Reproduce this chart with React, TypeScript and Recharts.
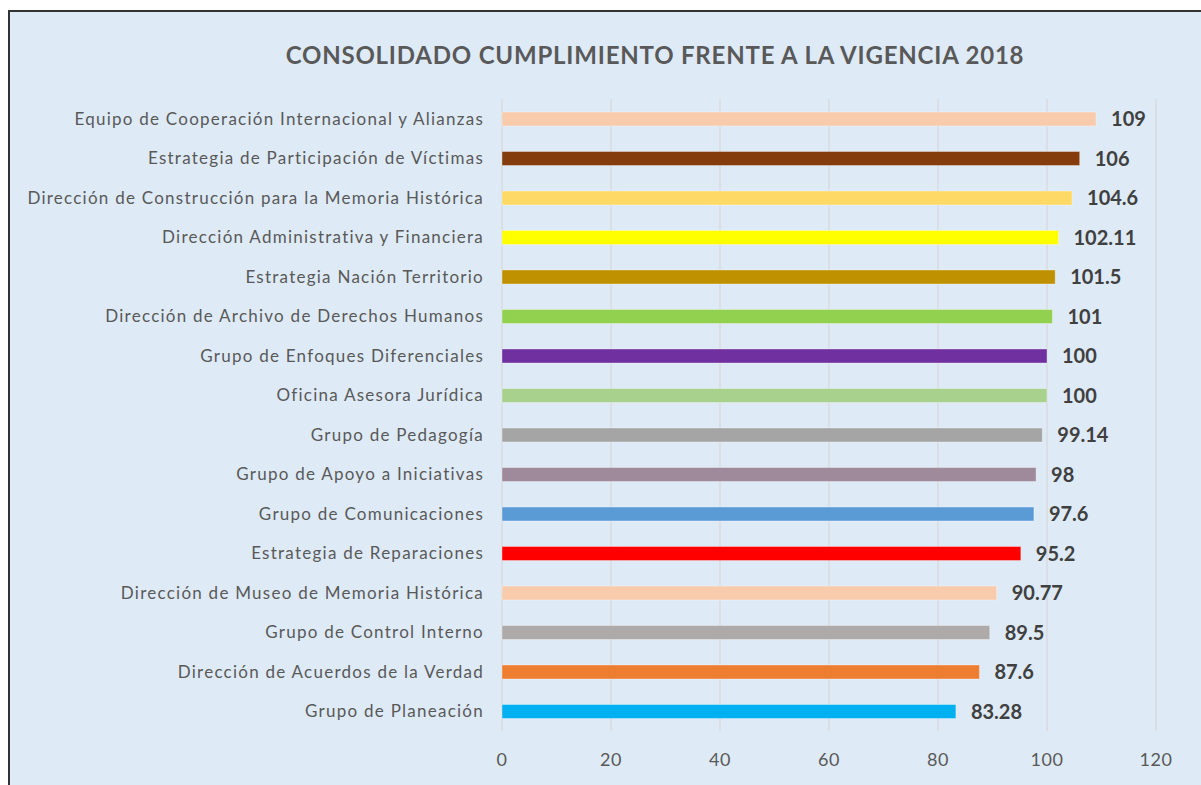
import React from 'react';
import { BarChart, Bar, XAxis, YAxis, CartesianGrid, Cell, LabelList } from 'recharts';

// Áreas, de arriba hacia abajo
const areas: string[] = [
  'Equipo de Cooperación Internacional y Alianzas',
  'Estrategia de Participación de Víctimas',
  'Dirección de Construcción para la Memoria Histórica',
  'Dirección Administrativa y Financiera',
  'Estrategia Nación Territorio',
  'Dirección de Archivo de Derechos Humanos',
  'Grupo de Enfoques Diferenciales',
  'Oficina Asesora Jurídica',
  'Grupo de Pedagogía',
  'Grupo de Apoyo a Iniciativas',
  'Grupo de Comunicaciones',
  'Estrategia de Reparaciones',
  'Dirección de Museo de Memoria Histórica',
  'Grupo de Control Interno',
  'Dirección de Acuerdos de la Verdad',
  'Grupo de Planeación',
];

const cumplimiento: number[] = [
  109, 106, 104.6, 102.11, 101.5, 101, 100, 100, 99.14, 98, 97.6, 95.2, 90.77, 89.5, 87.6, 83.28,
];

const colores: string[] = [
  '#F8CBAD', '#843C0C', '#FFD966', '#FFFF00', '#BF9000', '#92D050', '#7030A0', '#A9D18E',
  '#A5A5A5', '#9E8A9A', '#5B9BD5', '#FF0000', '#F8CBAD', '#AEAAAA', '#ED7D31', '#00B0F0',
];

const xTicks: number[] = [0, 20, 40, 60, 80, 100, 120];

const data = areas.map((area, i) => ({ area, valor: cumplimiento[i] }));

const FONT = 'Lato, "Open Sans", sans-serif';

export default function App() {
  return (
    <div
      style={{
        position: 'absolute',
        left: 8,
        top: 10,
        width: 1191,
        height: 773,
        background: '#DEEAF6',
        borderTop: '2px solid #333',
        borderLeft: '2px solid #333',
        fontFamily: FONT,
      }}
    >
      <div
        style={{
          position: 'absolute',
          left: 0,
          width: 1290,
          top: 28,
          textAlign: 'center',
          fontSize: 24,
          letterSpacing: 0.8,
          fontWeight: 700,
          color: '#595959',
        }}
      >
        CONSOLIDADO CUMPLIMIENTO FRENTE A LA VIGENCIA 2018
      </div>
      <BarChart
        width={1191}
        height={773}
        data={data}
        layout="vertical"
        margin={{ top: 87, right: 45, bottom: 14, left: 0 }}
        barCategoryGap={0}
      >
        <CartesianGrid horizontal={false} stroke="#D4D4D4" />
        <XAxis
          type="number"
          domain={[0, 120]}
          ticks={xTicks}
          axisLine={false}
          tickLine={false}
          tickMargin={16}
          height={40}
          tick={{ fill: '#595959', fontSize: 18, fontFamily: FONT, letterSpacing: 0.5 }}
        />
        <YAxis
          type="category"
          dataKey="area"
          width={492}
          axisLine={false}
          tickLine={false}
          tickMargin={12}
          interval={0}
          tick={{ fill: '#595959', fontSize: 17, fontFamily: FONT, letterSpacing: 1.25 }}
        />
        <Bar dataKey="valor" barSize={14} isAnimationActive={false} stroke="rgba(255,255,255,0.35)" strokeWidth={1}>
          {data.map((d, i) => (
            <Cell key={d.area} fill={colores[i]} />
          ))}
          <LabelList
            dataKey="valor"
            position="right"
            offset={15}
            fill="#404040"
            fontSize={20}
            fontWeight={700}
            fontFamily={FONT}
          />
        </Bar>
      </BarChart>
    </div>
  );
}
